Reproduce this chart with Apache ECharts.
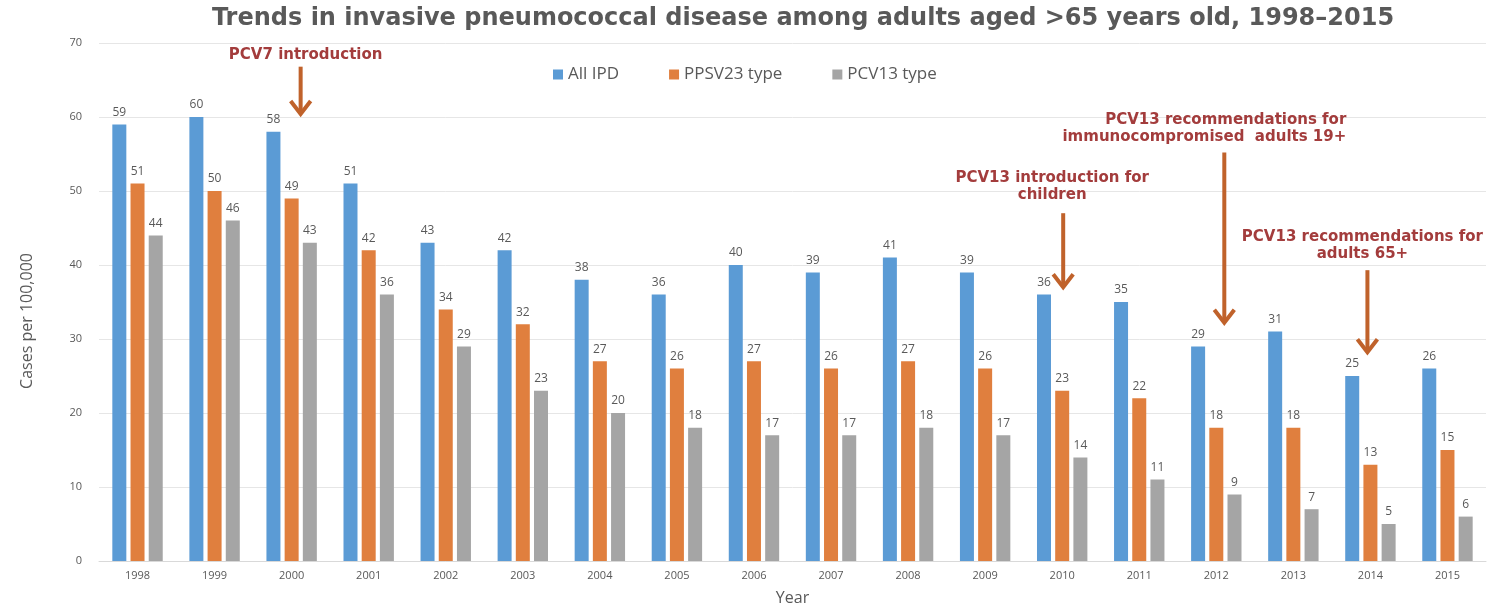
<!DOCTYPE html>
<html>
<head>
<meta charset="utf-8">
<script src="https://cdn.jsdelivr.net/npm/echarts@6/dist/echarts.min.js"></script>
<style>
  html, body { margin: 0; padding: 0; background: #ffffff; }
  #chart { width: 1491px; height: 606px; }
</style>
</head>
<body>
<div id="chart"></div>
<script>
// Invasive pneumococcal disease, cases per 100,000 adults aged >65
const years = ['1998','1999','2000','2001','2002','2003','2004','2005','2006','2007','2008','2009','2010','2011','2012','2013','2014','2015'];
const allIPD = [59, 60, 58, 51, 43, 42, 38, 36, 40, 39, 41, 39, 36, 35, 29, 31, 25, 26];
const ppsv23 = [51, 50, 49, 42, 34, 32, 27, 26, 27, 26, 27, 26, 23, 22, 18, 18, 13, 15];
const pcv13 = [44, 46, 43, 36, 29, 23, 20, 18, 17, 17, 18, 17, 14, 11, 9, 7, 5, 6];
const yTicks = [0, 10, 20, 30, 40, 50, 60, 70];

// Vaccine policy milestones: year, text lines, arrow start/end (in cases per 100,000)
const milestoneYears = ['2000', '2010', '2012', '2014'];
const milestoneText = [
  ['PCV7 introduction'],
  ['PCV13 introduction for', 'children'],
  ['PCV13 recommendations for', 'immunocompromised  adults 19+'],
  ['PCV13 recommendations for', 'adults 65+']
];
const arrowTop = [66.8, 47.0, 55.2, 39.3];
const arrowEnd = [60.4, 37.0, 32.2, 28.2];
const textAnchor = ['center', 'center', 'right', 'center'];
const textShift = [14, -10, 130, -8];  // horizontal nudge of the caption, px
const arrowShift = [9, 1, 8, -3];      // horizontal nudge of the arrow, px
const textGapAbove = [12, 18, 15, 16]; // space between caption and arrow, px

const chart = echarts.init(document.getElementById('chart'));

const labelStyle = {
  show: true, position: 'top', distance: 6,
  color: '#595959', fontSize: 12, fontFamily: 'Open Sans'
};

chart.setOption({
  animation: false,
  backgroundColor: '#ffffff',
  title: {
    text: 'Trends in invasive pneumococcal disease among adults aged >65 years old, 1998\u20132015',
    left: 798, top: 2, textAlign: 'center',
    textStyle: { fontFamily: 'DejaVu Sans', fontWeight: 'bold', fontSize: 24, color: '#595959' }
  },
  legend: {
    top: 61, left: 548,
    itemWidth: 10, itemHeight: 10, itemGap: 50,
    icon: 'rect',
    textStyle: { color: '#595959', fontSize: 17, fontFamily: 'Open Sans' },
    data: ['All IPD', 'PPSV23 type', 'PCV13 type']
  },
  grid: { left: 99, right: 5, top: 43, bottom: 45, outerBoundsMode: 'none' },
  xAxis: {
    type: 'category', data: years,
    name: 'Year', nameLocation: 'middle', nameGap: 29,
    nameTextStyle: { color: '#595959', fontSize: 16, fontFamily: 'Open Sans' },
    axisLine: { lineStyle: { color: '#d9d9d9' } },
    axisTick: { show: false },
    axisLabel: { color: '#595959', fontSize: 11, fontFamily: 'Open Sans', margin: 9 }
  },
  yAxis: {
    type: 'value', min: yTicks[0], max: yTicks[yTicks.length - 1], interval: 10,
    name: 'Cases per 100,000', nameLocation: 'middle', nameGap: 64, nameRotate: 90,
    nameTextStyle: { color: '#595959', fontSize: 16, fontFamily: 'Open Sans', padding: [0, 38, 0, 0] },
    axisLine: { show: false },
    axisTick: { show: false },
    splitLine: { lineStyle: { color: '#e6e6e6' } },
    axisLabel: { color: '#595959', fontSize: 11, fontFamily: 'Open Sans', margin: 17 }
  },
  series: [
    { name: 'All IPD', type: 'bar', data: allIPD, barWidth: 14, barGap: '30%',
      itemStyle: { color: '#5b9bd5' }, label: labelStyle },
    { name: 'PPSV23 type', type: 'bar', data: ppsv23, barWidth: 14, barGap: '30%',
      itemStyle: { color: '#e07f3e' }, label: labelStyle },
    { name: 'PCV13 type', type: 'bar', data: pcv13, barWidth: 14, barGap: '30%',
      itemStyle: { color: '#a5a5a5' }, label: labelStyle }
  ]
});

// Milestone captions and arrows, positioned through the chart's own scales
function drawMilestones() {
  const elements = [];
  milestoneYears.forEach((yr, i) => {
    const top = chart.convertToPixel({ gridIndex: 0 }, [yr, arrowTop[i]]);
    const end = chart.convertToPixel({ gridIndex: 0 }, [yr, arrowEnd[i]]);
    const ax = top[0] + arrowShift[i];
    const lines = milestoneText[i];
    const lineH = 17;
    const textBottom = top[1] - textGapAbove[i] + 17;
    lines.forEach((ln, k) => {
      elements.push({
        type: 'text',
        x: top[0] + textShift[i],
        y: textBottom - (lines.length - k) * lineH,
        style: {
          text: ln, fill: '#a33c3c', font: 'bold 15px "DejaVu Sans"',
          textAlign: textAnchor[i], textVerticalAlign: 'middle'
        },
        silent: true
      });
    });
    elements.push({
      type: 'line',
      shape: { x1: ax, y1: top[1], x2: ax, y2: end[1] - 2 },
      style: { stroke: '#c0622b', lineWidth: 4 },
      silent: true
    });
    elements.push({
      type: 'polyline',
      shape: { points: [[ax - 10, end[1] - 13], [ax, end[1]], [ax + 10, end[1] - 13]] },
      style: { stroke: '#c0622b', lineWidth: 4, fill: null, lineJoin: 'miter' },
      silent: true
    });
  });
  chart.setOption({ graphic: { elements: elements } });
}
drawMilestones();
</script>
</body>
</html>
